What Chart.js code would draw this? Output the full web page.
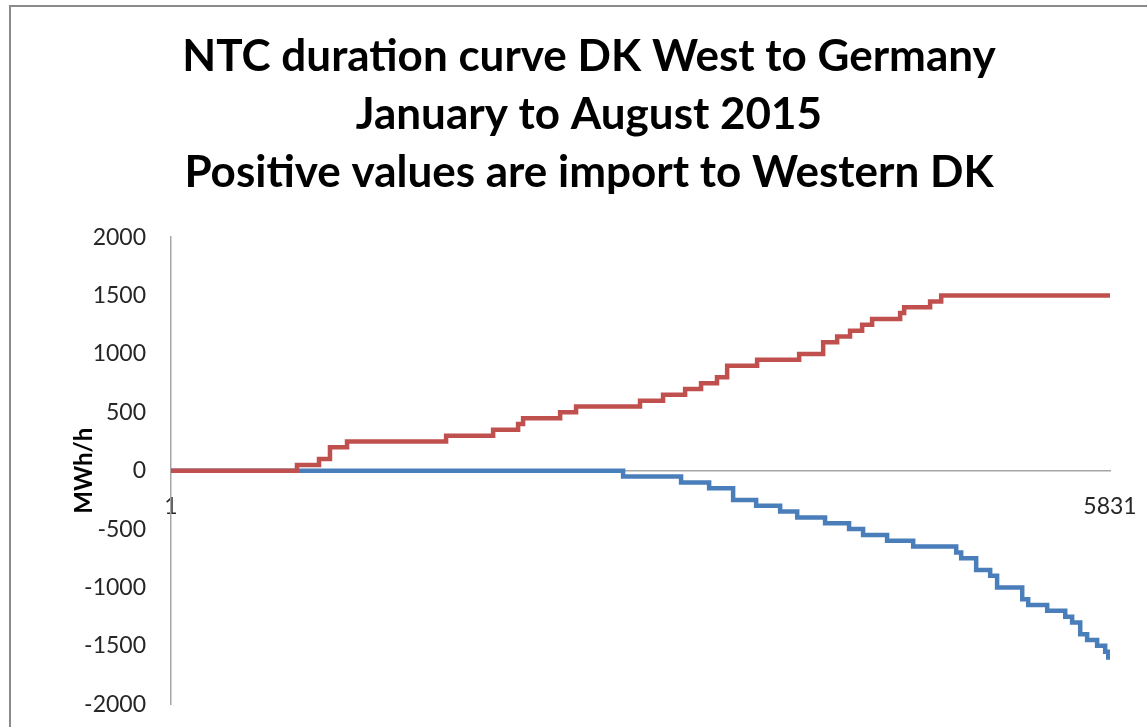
<!DOCTYPE html>
<html lang="en">
  <head>
    <meta charset="UTF-8" />
    <title>NTC duration curve DK West to Germany</title>
    <script src="https://cdn.jsdelivr.net/npm/chart.js"></script>
    <style>
      html, body { margin: 0; padding: 0; background: #fff; overflow: hidden; }
      .frame {
        position: absolute; left: 9px; top: 5px; width: 1300px; height: 900px;
        border-left: 2px solid #8a8a8a; border-top: 2px solid #8a8a8a;
      }
      .wrap { position: absolute; left: 0; top: 0; width: 1178px; height: 743px; }
    </style>
  </head>
  <body>
    <div class="frame"></div>
    <div class="wrap">
      <canvas id="ntcChart" width="1178" height="743"></canvas>
    </div>

    <script>
      // step breakpoints (hour rank -> MWh/h)
      const importHours = [1, 783, 920, 988, 1094, 1709, 2001, 2156, 2187, 2417, 2516, 2913, 3056, 3193, 3292, 3391, 3454, 3640, 3901, 4050, 4137, 4217, 4292, 4354, 4528, 4553, 4714, 4783, 5831];
      const importValues = [0, 50, 100, 200, 250, 300, 350, 400, 450, 500, 550, 600, 650, 700, 750, 800, 900, 950, 1000, 1100, 1150, 1200, 1250, 1300, 1350, 1400, 1450, 1500, 1500];

      const exportHours = [1, 2808, 3168, 3342, 3491, 3634, 3783, 3889, 4062, 4211, 4298, 4447, 4609, 4876, 4907, 5000, 5087, 5130, 5286, 5323, 5441, 5553, 5596, 5646, 5689, 5751, 5801, 5820, 5831];
      const exportValues = [0, -50, -100, -150, -250, -300, -350, -400, -450, -500, -550, -600, -650, -700, -750, -850, -900, -1000, -1100, -1150, -1200, -1250, -1300, -1400, -1450, -1500, -1550, -1600, -1600];

      const xTicks = [1, 5831];
      const yTicks = [-2000, -1500, -1000, -500, 0, 500, 1000, 1500, 2000];

      const titleLines = [
        "NTC duration curve DK West to Germany",
        "January to August 2015",
        "Positive values are import to Western DK",
      ];

      const toPoints = (xs, ys) => xs.map((x, i) => ({ x: x, y: ys[i] }));

      const ctx = document.getElementById("ntcChart").getContext("2d");
      new Chart(ctx, {
        type: "line",
        data: {
          datasets: [
            {
              label: "Import",
              data: toPoints(importHours, importValues),
              borderColor: "#C0504D",
              borderWidth: 4.5,
              stepped: "before",
              pointRadius: 0,
              fill: false,
            },
            {
              label: "Export",
              data: toPoints(exportHours, exportValues),
              borderColor: "#4A7EBB",
              borderWidth: 4.5,
              stepped: "before",
              pointRadius: 0,
              fill: false,
            },
          ],
        },
        options: {
          responsive: false,
          animation: false,
          layout: { padding: { left: 68, right: 68, top: 0, bottom: 24 } },
          plugins: {
            legend: { display: false },
            tooltip: { enabled: false },
            title: {
              display: true,
              text: titleLines,
              color: "#000",
              font: { family: "Lato", size: 44, weight: "bold", lineHeight: 1.32 },
              padding: { top: 28, bottom: 35 },
            },
          },
          scales: {
            x: {
              type: "linear",
              position: { y: 0 },
              min: 1,
              max: 5831,
              afterBuildTicks: (scale) => {
                scale.ticks = xTicks.map((v) => ({ value: v }));
              },
              grid: { display: false, drawTicks: false },
              border: { display: true, color: "#a6a6a6", width: 1.5 },
              ticks: {
                color: "#262626",
                font: { family: "Lato", size: 23 },
                padding: 22,
                maxRotation: 0,
                autoSkip: false,
                callback: (v) => String(v),
              },
            },
            y: {
              min: -2000,
              max: 2000,
              afterBuildTicks: (scale) => {
                scale.ticks = yTicks.map((v) => ({ value: v }));
              },
              afterFit: (scale) => {
                scale.width = 103;
              },
              grid: { display: false, drawTicks: false },
              border: { display: true, color: "#a6a6a6", width: 1.5 },
              ticks: {
                color: "#262626",
                font: { family: "Lato", size: 23 },
                padding: 25,
                callback: (v) => String(v),
              },
              title: {
                display: true,
                text: "MWh/h",
                color: "#000",
                font: { family: "Lato", size: 24, weight: "bold" },
                padding: { top: 2, bottom: 0 },
              },
            },
          },
        },
      });
    </script>
  </body>
</html>
